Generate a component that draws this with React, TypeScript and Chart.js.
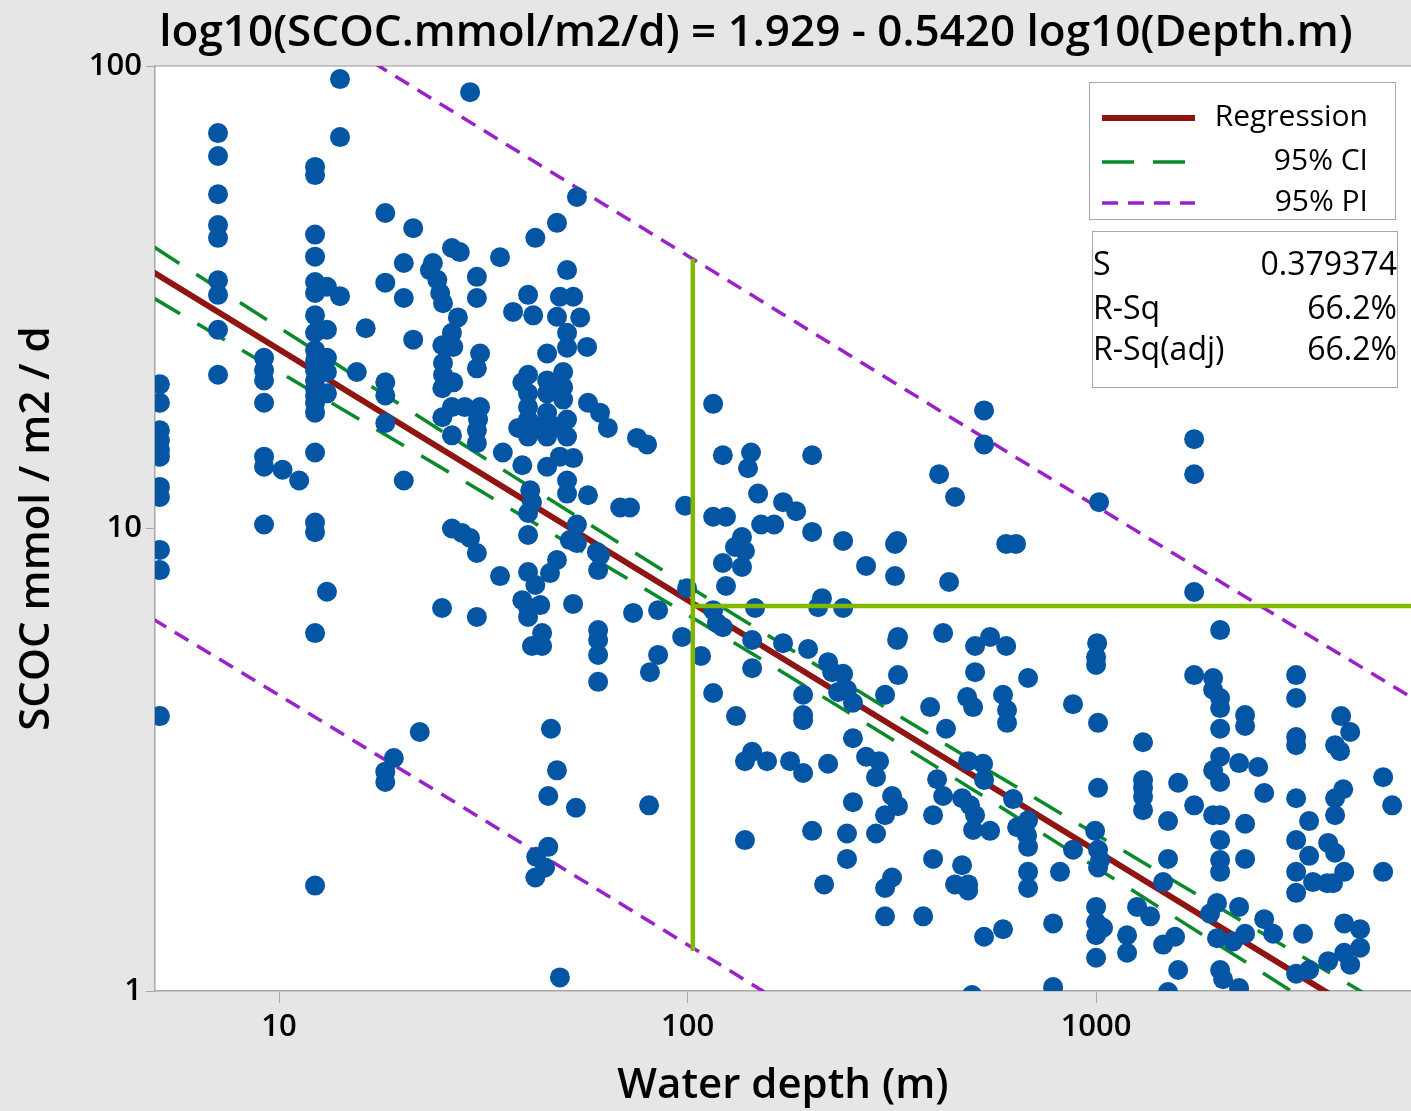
import React, { useEffect, useRef } from "react";
import { Chart, registerables } from "chart.js";

Chart.register(...registerables);

const chartTitle = "log10(SCOC.mmol/m2/d) = 1.929 - 0.5420 log10(Depth.m)";
const xAxisTitle = "Water depth (m)";
const yAxisTitle = "SCOC mmol / m2 / d";
const xTickValues = [10, 100, 1000];
const xTickLabels = ["10", "100", "1000"];
const yTickValues = [1, 10, 100];
const yTickLabels = ["1", "10", "100"];
const legendLabels = ["Regression", "95% CI", "95% PI"];
const statLabels = ["S", "R-Sq", "R-Sq(adj)"];
const statValues = ["0.379374", "66.2%", "66.2%"];

// [water depth (m), SCOC (mmol/m2/d)]
const nearshorePoints: [number, number][] = [
  [5.11, 20.5], [5.11, 18.7], [5.11, 16.3], [5.11, 15.5], [5.11, 14.8], [5.11, 14.3], [5.11, 12.3], [5.11, 11.7], [5.11, 8.99], [5.11, 8.13], [5.11, 3.93],
  [7.09, 71.6], [7.09, 63.9], [7.09, 52.8], [7.09, 45.3], [7.09, 42.5], [7.09, 34.4], [7.09, 32.0], [7.09, 26.9], [7.09, 21.5],
  [9.19, 23.4], [9.19, 22.0], [9.19, 20.9], [9.19, 18.7], [9.19, 14.3], [9.19, 13.6], [9.19, 10.2],
  [10.2, 13.4], [11.2, 12.7],
  [12.25, 60.5], [12.25, 58.1], [12.25, 43.2], [12.25, 38.7], [12.25, 34.1], [12.25, 32.3], [12.25, 28.9], [12.25, 26.5], [12.25, 24.3], [12.25, 23.1], [12.25, 22.0],
  [12.25, 20.9], [12.25, 20.1], [12.25, 19.4], [12.25, 18.7], [12.25, 17.8], [12.25, 14.6], [12.25, 10.3], [12.25, 9.82], [12.25, 5.94], [12.25, 1.69],
  [13.1, 33.3], [13.1, 26.9], [13.1, 23.4], [13.1, 21.8], [13.1, 19.6], [13.1, 7.3],
  [14.1, 93.7], [14.1, 70.2], [14.1, 31.8], [15.5, 21.8], [16.3, 27.1],
  [18.2, 48.1], [18.2, 34.0], [18.2, 20.7], [18.2, 19.4], [18.2, 16.9], [18.2, 2.98], [18.2, 2.83], [19.1, 3.19],
];

const shelfPoints: [number, number][] = [
  [22.1, 3.63], [20.2, 12.7], [20.2, 37.5], [20.2, 31.5], [21.3, 44.6], [21.3, 25.6],
  [53.6, 52.1], [47.9, 45.8], [42.4, 42.5], [34.75, 38.6], [26.5, 40.4], [27.7, 39.6], [23.8, 37.5], [23.4, 36.2], [30.5, 35.0], [24.4, 34.5],
  [24.8, 32.3], [25.2, 30.7], [30.5, 31.5], [50.7, 36.2], [40.7, 32.0], [48.7, 31.7], [52.5, 31.7], [37.4, 29.4], [41.9, 28.9], [47.9, 28.7],
  [54.6, 28.6], [27.4, 28.6], [50.7, 26.5], [26.5, 26.5], [25.1, 24.9], [26.7, 24.7], [31.05, 23.9], [30.5, 22.2], [45.3, 23.9], [50.7, 24.6],
  [56.75, 24.7], [25.2, 22.8], [25.2, 21.5], [26.7, 20.7], [25.1, 20.1], [40.7, 21.5], [39.4, 20.7], [40.7, 19.6], [40.7, 18.3], [40.7, 17.2],
  [38.5, 16.5], [40.7, 15.8], [45.3, 20.9], [45.3, 19.6], [45.3, 17.8], [45.3, 16.6], [45.3, 15.8], [49.6, 21.8], [49.6, 20.2], [49.6, 19.0],
  [50.7, 17.2], [50.7, 15.8], [47.9, 16.6], [42.8, 16.6], [26.5, 18.3], [28.5, 18.3], [31.05, 18.3], [25.1, 17.4], [30.7, 17.2], [26.5, 15.9],
  [30.5, 15.3], [57.05, 18.7], [61.05, 17.8], [63.8, 16.5], [75.2, 15.7], [79.6, 15.2], [35.3, 14.6], [39.4, 13.7], [45.3, 13.6], [48.7, 14.3],
  [52.5, 14.2], [41.2, 12.1], [41.6, 11.4], [40.7, 10.8], [50.7, 12.7], [50.7, 11.9], [57.05, 11.8], [68.4, 11.1], [72.3, 11.1], [98.6, 11.2],
  [30.5, 16.3], [29.35, 87.8],
  [40.7, 9.68], [26.5, 10.0], [28.05, 9.78], [29.35, 9.54], [30.5, 8.85], [34.75, 7.89], [40.7, 8.05], [42.4, 7.55], [47.9, 8.55], [46.05, 8.01],
  [53.6, 10.2], [51.5, 9.44], [53.6, 9.3], [60.0, 8.9], [61.05, 8.76], [60.4, 8.13], [99.7, 7.43], [39.4, 7.0], [40.7, 6.76], [43.6, 6.83],
  [40.7, 6.44], [52.45, 6.87], [25.06, 6.73], [30.5, 6.44], [73.55, 6.57], [84.7, 6.66], [44.05, 5.94], [41.6, 5.57], [44.05, 5.57], [60.4, 6.03],
  [60.4, 5.74], [60.4, 5.33], [97, 5.83], [84.7, 5.33], [80.9, 4.89], [60.4, 4.66], [46.3, 3.69], [47.9, 3.0], [45.6, 2.64], [53.3, 2.49],
  [80.5, 2.52], [45.6, 2.05], [42.6, 1.95], [44.8, 1.85], [42.4, 1.76], [48.7, 1.07],
];

const slopePoints: [number, number][] = [
  [115.5, 18.6], [531.8, 18.0], [531.8, 15.2], [122, 14.4], [143, 14.6], [140.6, 13.5], [201.8, 14.4], [412.8, 13.1], [451.6, 11.7], [115.5, 10.6],
  [124.2, 10.6], [148.8, 11.9], [171.3, 11.4], [184.4, 10.9], [151.4, 10.2], [162.9, 10.2], [201.8, 9.83], [240.3, 9.4], [325.8, 9.4], [322, 9.26],
  [602.5, 9.26], [636.8, 9.26], [135.9, 9.58], [130.6, 9.12], [138.2, 8.94], [122, 8.42], [135.9, 8.26], [273.5, 8.3], [322, 7.89], [436.6, 7.66],
  [124.2, 7.51], [213.3, 7.07], [208.7, 6.76], [240.3, 6.73], [146.3, 6.73], [115.5, 6.66], [118, 6.25], [122, 6.12], [143.9, 5.74], [107.9, 5.3],
  [171.3, 5.65], [197.2, 5.49], [327.4, 5.83], [325.8, 5.74], [422.2, 5.94], [505.6, 5.57], [550.2, 5.83], [602.5, 5.57], [143.9, 4.99], [220.8, 5.14],
  [225.9, 4.89], [240.3, 4.85], [327.4, 4.82], [505.6, 4.89], [681.6, 4.75], [233.6, 4.43], [245.6, 4.48], [191.8, 4.37], [304.4, 4.37], [115.5, 4.41],
  [483.5, 4.32], [591.8, 4.37],
  [131.4, 3.93], [191.8, 3.95], [191.8, 3.85], [254, 4.2], [392.4, 4.11], [500, 4.11], [605.4, 4.05], [605.4, 3.8], [429.2, 3.69], [254, 3.52],
  [143.9, 3.29], [138.2, 3.14], [156.5, 3.14], [178.2, 3.14], [191.8, 2.96], [220.8, 3.1], [273.5, 3.21], [294.3, 3.14], [289.3, 2.9], [408.2, 2.87],
  [422.2, 2.64], [486.3, 3.14], [529, 3.1], [531.8, 2.86], [626.3, 2.6], [254, 2.56], [316.7, 2.64], [327.4, 2.51], [304.4, 2.4], [399, 2.4],
  [469.9, 2.61], [491.6, 2.52], [505.6, 2.4], [500, 2.23], [550.2, 2.22], [640.8, 2.26], [681.6, 2.34], [677.8, 2.17], [681.6, 2.05], [201.8, 2.22],
  [245.6, 2.19], [289.3, 2.19], [138.2, 2.12], [245.6, 1.93], [399, 1.93], [469.9, 1.87], [681.6, 1.81], [681.6, 1.67], [816, 1.81], [215.9, 1.7],
  [316.7, 1.76], [304.4, 1.67], [451.6, 1.7], [486.3, 1.7], [486.3, 1.65], [304.4, 1.45], [377.3, 1.45], [531.8, 1.31], [591.8, 1.36], [784.8, 1.4],
  [784.8, 1.02], [497, 0.98], [878, 4.17],
];

const deepPoints: [number, number][] = [
  [1738, 15.6], [1738, 13.1], [1017, 11.4], [1738, 7.29], [2012, 6.03], [1006, 5.65], [1000, 5.27], [1000, 5.07], [1738, 4.82], [1934, 4.75],
  [1934, 4.48], [2012, 4.3], [3088, 4.82], [3088, 4.3],
  [1011, 3.8], [1303, 3.45], [2012, 4.09], [2012, 3.69], [2316, 3.95], [2316, 3.74], [3088, 3.54], [3088, 3.4], [3980, 3.93], [4188, 3.63],
  [3846, 3.4], [3955, 3.3], [2012, 3.21], [1934, 3.0], [2012, 2.83], [2239, 3.11], [2493, 3.05], [1303, 2.86], [1303, 2.75], [1303, 2.63],
  [1303, 2.46], [1011, 2.75], [1588, 2.82], [5043, 2.9], [5305, 2.52], [2579, 2.68], [1738, 2.52], [3088, 2.61], [4027, 2.73], [3846, 2.61],
  [3846, 2.4], [1934, 2.4], [2012, 2.4], [1500, 2.33], [2316, 2.3], [3322, 2.33], [994.5, 2.22], [878, 2.02], [1011, 2.02], [1023, 1.92],
  [1011, 1.85], [2012, 2.12], [2012, 1.92], [2012, 1.81], [2316, 1.93], [1500, 1.93], [3088, 2.12], [3698, 2.09], [3846, 1.99], [3322, 1.96],
  [3088, 1.81], [3396, 1.72], [3677, 1.71], [3802, 1.71], [4048, 1.81], [5043, 1.81], [3088, 1.63], [1459, 1.72], [1000, 1.52], [1000, 1.41],
  [1040, 1.37], [1000, 1.32], [1260, 1.52], [1356, 1.45], [1191, 1.32], [1191, 1.21], [1000, 1.18], [1901, 1.47], [1977, 1.55], [2239, 1.52],
  [2579, 1.43], [2713, 1.33], [1459, 1.26], [1561, 1.31], [1977, 1.3], [2165, 1.28], [2316, 1.33], [3211, 1.33], [4048, 1.4], [4429, 1.36],
  [4429, 1.24], [4048, 1.21], [4188, 1.14], [3698, 1.16], [3088, 1.09], [3322, 1.11], [1588, 1.11], [2012, 1.11], [2046, 1.06], [2239, 1.015],
  [1500, 0.995],
];

// fitted lines
const regressionLine: [number, number][] = [[4.9, 35.9], [4000, 0.948]];
const ciUpper: [number, number][] = [[4.9, 40.8], [10, 27.2], [31.6, 14.26], [100, 7.52], [214, 4.97], [501, 3.14], [1000, 2.18], [1995, 1.517], [3981, 1.058], [6026, 0.853]];
const ciLower: [number, number][] = [[4.9, 31.6], [10, 21.8], [31.6, 11.96], [100, 6.51], [214, 4.33], [501, 2.72], [1000, 1.85], [1995, 1.258], [3981, 0.853], [6026, 0.675]];
const piUpper: [number, number][] = [[4.9, 201.8], [10, 136], [100, 38.9], [1000, 11.17], [6026, 4.27]];
const piLower: [number, number][] = [[4.9, 6.38], [10, 4.36], [100, 1.259], [1000, 0.359], [6026, 0.135]];
const guideVertical: [number, number][] = [[103, 38.3], [103, 1.22]];
const guideHorizontal: [number, number][] = [[103, 6.8], [5900, 6.8]];

const FONT = '"Open Sans", "Noto Sans", sans-serif';
const RED = "#8E1512";
const GREEN = "#0A8A2A";
const PURPLE = "#9A22C8";
const LIME = "#80B800";
const BLUE = "#0455A4";

const toXY = (arr: [number, number][]) => arr.map(([x, y]) => ({ x, y }));

const decorPlugin = {
  id: "decor",
  beforeDraw(chart: any) {
    const { ctx, chartArea: a, width, height } = chart;
    ctx.save();
    ctx.fillStyle = "#E6E6E6";
    ctx.fillRect(0, 0, width, height);
    ctx.fillStyle = "#FFFFFF";
    ctx.fillRect(a.left, a.top, a.right - a.left, a.bottom - a.top);
    ctx.strokeStyle = "#B4B4B4";
    ctx.lineWidth = 1.5;
    ctx.beginPath();
    ctx.moveTo(a.left, a.top);
    ctx.lineTo(a.right, a.top);
    ctx.stroke();
    ctx.fillStyle = "#000";
    ctx.font = `600 44px ${FONT}`;
    ctx.textAlign = "center";
    ctx.textBaseline = "middle";
    ctx.fillText(chartTitle, 756, 33);
    ctx.restore();
  },
  afterDraw(chart: any) {
    const { ctx } = chart;
    ctx.save();
    // legend box
    ctx.fillStyle = "#FFFFFF";
    ctx.fillRect(1089.5, 82.5, 306, 137);
    ctx.strokeStyle = "#A8A8A8";
    ctx.lineWidth = 1;
    ctx.strokeRect(1089.5, 82.5, 306, 137);
    const rows = [118, 162, 203];
    const styles = [
      { c: RED, w: 6, d: [] as number[] },
      { c: GREEN, w: 3.5, d: [32, 19] },
      { c: PURPLE, w: 3.5, d: [16, 10] },
    ];
    styles.forEach((s, i) => {
      ctx.strokeStyle = s.c;
      ctx.lineWidth = s.w;
      ctx.setLineDash(s.d);
      ctx.lineCap = "butt";
      ctx.beginPath();
      ctx.moveTo(1102, rows[i]);
      ctx.lineTo(1195, rows[i]);
      ctx.stroke();
    });
    ctx.setLineDash([]);
    ctx.fillStyle = "#000";
    ctx.font = `30px ${FONT}`;
    ctx.textAlign = "right";
    ctx.textBaseline = "middle";
    legendLabels.forEach((t, i) => ctx.fillText(t, 1368, rows[i] - 1));
    // stats box
    ctx.fillStyle = "#FFFFFF";
    ctx.fillRect(1092.5, 231.5, 305, 156);
    ctx.strokeStyle = "#A8A8A8";
    ctx.lineWidth = 1;
    ctx.strokeRect(1092.5, 231.5, 305, 156);
    ctx.fillStyle = "#000";
    ctx.font = `32px ${FONT}`;
    const srows = [266, 310, 351];
    statLabels.forEach((t, i) => {
      ctx.textAlign = "left";
      ctx.fillText(t, 1093, srows[i]);
      ctx.textAlign = "right";
      ctx.fillText(statValues[i], 1397, srows[i]);
    });
    ctx.restore();
  },
};

export default function App() {
  const ref = useRef<HTMLCanvasElement | null>(null);
  useEffect(() => {
    if (!ref.current) return;
    Chart.defaults.font.family = FONT;
    Chart.defaults.color = "#000";
    const lineDs = (label: string, data: [number, number][], color: string, width: number, dash: number[]) => ({
      type: "line" as const,
      label,
      data: toXY(data),
      borderColor: color,
      borderWidth: width,
      borderDash: dash,
      pointRadius: 0,
      fill: false,
      cubicInterpolationMode: "monotone" as const,
      order: 2,
    });
    const scatterDs = (label: string, data: [number, number][]) => ({
      type: "scatter" as const,
      label,
      data: toXY(data),
      backgroundColor: BLUE,
      borderColor: BLUE,
      pointRadius: 10,
      pointBorderWidth: 0,
      borderWidth: 0,
      clip: 0,
      order: 1,
    });
    const chart = new Chart(ref.current, {
      type: "scatter",
      data: {
        datasets: [
          { type: "line", label: "guideV", data: toXY(guideVertical), borderColor: LIME, borderWidth: 4.5, pointRadius: 0, order: 0 },
          { type: "line", label: "guideH", data: toXY(guideHorizontal), borderColor: LIME, borderWidth: 4.5, pointRadius: 0, order: 0 },
          scatterDs("nearshore", nearshorePoints),
          scatterDs("shelf", shelfPoints),
          scatterDs("slope", slopePoints),
          scatterDs("deep", deepPoints),
          lineDs("PI upper", piUpper, PURPLE, 3.5, [16, 10]),
          lineDs("PI lower", piLower, PURPLE, 3.5, [16, 10]),
          lineDs("CI upper", ciUpper, GREEN, 3.5, [32, 20]),
          lineDs("CI lower", ciLower, GREEN, 3.5, [32, 20]),
          lineDs("Regression", regressionLine, RED, 6, []),
        ] as any,
      },
      options: {
        animation: false,
        responsive: false,
        maintainAspectRatio: false,
        devicePixelRatio: 1,
        events: [],
        layout: { autoPadding: false, padding: { top: 66, left: 0, right: 0, bottom: 0 } },
        plugins: { legend: { display: false }, tooltip: { enabled: false }, title: { display: false } },
        scales: {
          x: {
            type: "logarithmic",
            position: "bottom",
            min: 4.97,
            max: 5900,
            bounds: "data",
            afterBuildTicks: (s: any) => {
              s.ticks = xTickValues.map((v) => ({ value: v }));
            },
            afterFit: (s: any) => {
              s.height = 120;
            },
            ticks: {
              autoSkip: false,
              maxRotation: 0,
              padding: 6,
              font: { size: 31, weight: "600" },
              color: "#000",
              callback: (_v: any, i: number) => xTickLabels[i],
            },
            grid: { display: true, drawOnChartArea: false, drawTicks: true, tickLength: 12, color: "#A8A8A8", tickColor: "#A8A8A8" },
            border: { display: true, color: "#A8A8A8", width: 1.5 },
            title: { display: true, text: xAxisTitle, font: { size: 42, weight: "600" }, color: "#000", padding: { top: 0, bottom: 0 } },
          },
          y: {
            type: "logarithmic",
            position: "left",
            min: 1,
            max: 100,
            bounds: "data",
            afterBuildTicks: (s: any) => {
              s.ticks = yTickValues.map((v) => ({ value: v }));
            },
            afterFit: (s: any) => {
              s.width = 155;
            },
            ticks: {
              autoSkip: false,
              padding: 4,
              font: { size: 31, weight: "600" },
              color: "#000",
              callback: (_v: any, i: number) => yTickLabels[i],
            },
            grid: { display: true, drawOnChartArea: false, drawTicks: true, tickLength: 9, color: "#A8A8A8", tickColor: "#A8A8A8" },
            border: { display: true, color: "#A8A8A8", width: 1.5 },
            title: { display: true, text: yAxisTitle, font: { size: 42, weight: "600" }, color: "#000", padding: { top: 12, bottom: 0 } },
          },
        },
      },
      plugins: [decorPlugin],
    });
    return () => chart.destroy();
  }, []);
  return (
    <div style={{ position: "absolute", left: 0, top: 0, width: 1411, height: 1111 }}>
      <canvas ref={ref} width={1411} height={1111} style={{ display: "block", width: 1411, height: 1111 }} />
    </div>
  );
}
